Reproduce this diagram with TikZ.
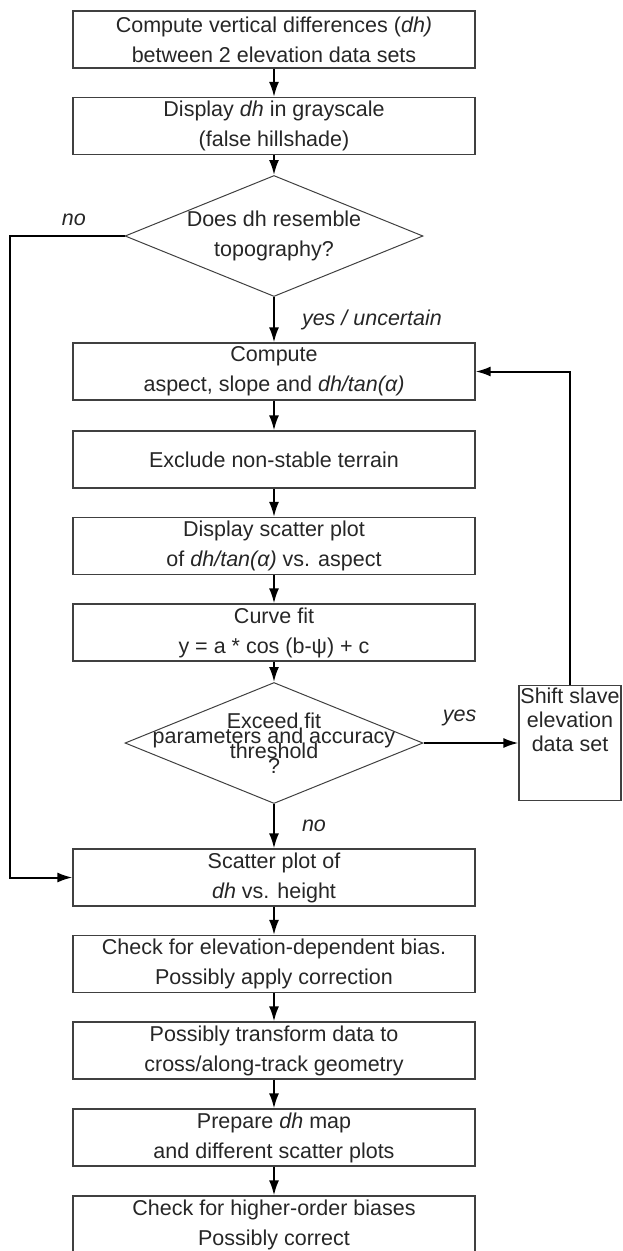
\documentclass[tikz,border=0pt]{standalone}
\usepackage{fontspec}
\setmainfont{Liberation Sans}
\usetikzlibrary{shapes,arrows.meta}
\tikzstyle{block} = [rectangle, draw=black!75, line width=1.2pt, text=black!85,
    minimum width=402pt, minimum height=57pt, inner sep=0pt, align=center,
    font={\fontsize{21.5}{30}\selectfont}]
\tikzstyle{decision} = [diamond, draw=black!75, line width=1pt,
    minimum width=298pt, minimum height=121pt, inner sep=0pt]
\tikzstyle{dtext} = [align=center, text=black!85, inner sep=0pt]
\tikzstyle{sidebox} = [rectangle, draw=black!75, line width=1.2pt,
    minimum width=102pt, minimum height=115pt, inner sep=0pt]
\tikzstyle{note} = [text=black!85, inner sep=0pt,
    font={\fontsize{21.5}{26}\selectfont\itshape}]
\tikzstyle{flow} = [draw, line width=2pt, ->]

\begin{document}
\begin{tikzpicture}[x=1pt, y=-1pt, >={Latex[length=15pt,width=10pt]}, node distance=86.5pt]
	\useasboundingbox (0,0) rectangle (622,1251);
	\node [block] (diff) at (274,39.5) {Compute vertical differences (\textit{dh)}\\between 2 elevation data sets};
	\node [block, below of=diff] (gray) {Display \textit{dh} in grayscale\\(false hillshade)};
	\node [decision, below of=gray, node distance=110pt] (topo) {};
	\node [dtext, font={\fontsize{21.5}{30}\selectfont}] (topotext) at (topo) {Does dh resemble\\topography?};
	\node [block, below of=topo, node distance=135.5pt] (aspect) {Compute\\aspect, slope and \textit{dh/tan(α)}};
	\node [block, below of=aspect, node distance=88pt] (exclude) {Exclude non-stable terrain};
	\node [block, below of=exclude] (plot) {Display scatter plot\\of \textit{dh/tan(α)} vs. aspect};
	\node [block, below of=plot] (fit) {Curve fit\\y = a * cos (b-ψ) + c};
	\node [decision, below of=fit, node distance=110.5pt] (exceed) {};
	\node [dtext, font={\fontsize{21.5}{15}\selectfont\lineskiplimit=-100pt}] (exceedtext) at (exceed) {Exceed fit\\parameters and accuracy\\threshold\\?};
	\node [sidebox, right of=exceed, node distance=296pt] (shift) {};
	\node [dtext, anchor=north, inner sep=3pt, font={\fontsize{21.5}{24}\selectfont}] (shifttext) at (shift.north) {Shift slave\\elevation\\data set};
	\node [block, below of=exceed, node distance=134.5pt] (height) {Scatter plot of\\\textit{dh} vs. height};
	\node [block, below of=height] (bias) {Check for elevation-dependent bias.\\Possibly apply correction};
	\node [block, below of=bias] (track) {Possibly transform data to\\cross/along-track geometry};
	\node [block, below of=track, node distance=87pt] (map) {Prepare \textit{dh} map\\and different scatter plots};
	\node [block, below of=map, node distance=87pt] (higher) {Check for higher-order biases\\Possibly correct};

	\draw[flow] (diff) -- (gray);
	\draw[flow] (gray) -- (topo);
	\draw[flow] (topo) -- node[note, right=27pt] (yesunc) {yes / uncertain} (aspect);
	\draw[flow] (topo.west) -- node[note, above=9pt, pos=0.44] (nolbl) {no} ++(-115,0) |- (height.west);
	\draw[flow] (aspect) -- (exclude);
	\draw[flow] (exclude) -- (plot);
	\draw[flow] (plot) -- (fit);
	\draw[flow] (fit) -- (exceed);
	\draw[flow] (exceed) -- node[note, above=16pt, pos=0.38] (yeslbl) {yes} (shift);
	\draw[flow] (shift.north) |- (aspect.east);
	\draw[flow] (exceed) -- node[note, right=27pt] (nolbl2) {no} (height);
	\draw[flow] (height) -- (bias);
	\draw[flow] (bias) -- (track);
	\draw[flow] (track) -- (map);
	\draw[flow] (map) -- (higher);
\end{tikzpicture}
\end{document}
